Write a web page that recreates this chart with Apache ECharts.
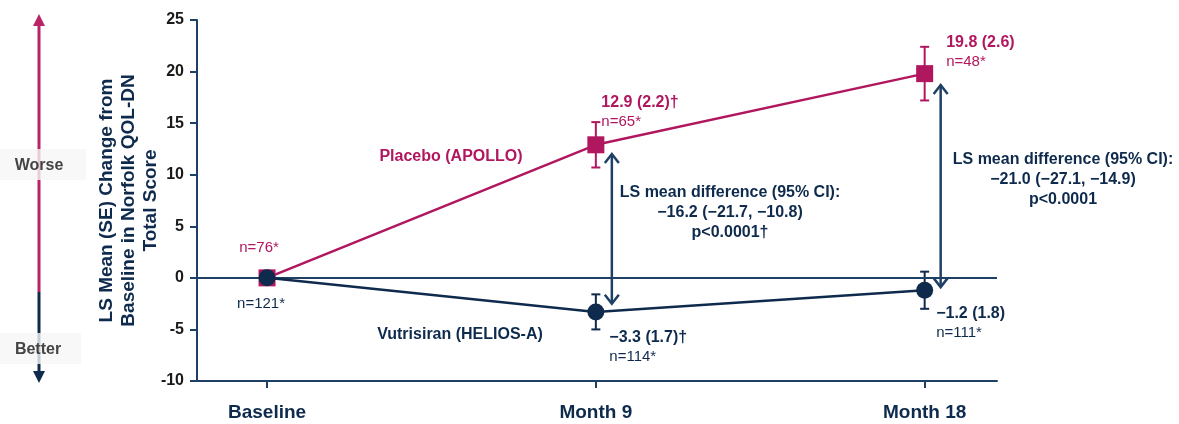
<!DOCTYPE html>
<html>
<head>
<meta charset="utf-8">
<script src="https://cdn.jsdelivr.net/npm/echarts@6/dist/echarts.min.js"></script>
<style>
html,body{margin:0;padding:0;background:#fff;}
#chart{width:1179px;height:424px;}
</style>
</head>
<body>
<div id="chart"></div>
<script>
// ---- data ----
const categories = ['Baseline', 'Month 9', 'Month 18'];
const placeboMean = [0, 12.9, 19.8];
const placeboSE = [null, 2.2, 2.6];
const vutrisiranMean = [0, -3.3, -1.2];
const vutrisiranSE = [null, 1.7, 1.8];
const placeboStatLabels = ['', '12.9 (2.2)†', '19.8 (2.6)'];
const placeboN = ['n=76*', 'n=65*', 'n=48*'];
const vutrisiranStatLabels = ['', '−3.3 (1.7)†', '−1.2 (1.8)'];
const vutrisiranN = ['n=121*', 'n=114*', 'n=111*'];
const diffIndex = [1, 2];
const diffArrowTop = [12.0, 18.7];
const diffArrowBottom = [-2.5, -0.9];
const diffTexts = [
  'LS mean difference (95% CI):\n−16.2 (−21.7, −10.8)\np<0.0001†',
  'LS mean difference (95% CI):\n−21.0 (−27.1, −14.9)\np<0.0001'
];
const yTicks = [-10, -5, 0, 5, 10, 15, 20, 25];
const seriesNames = ['Placebo (APOLLO)', 'Vutrisiran (HELIOS-A)'];
const yAxisTitle = 'LS Mean (SE) Change from\nBaseline in Norfolk QOL-DN\nTotal Score';
const directionLabels = ['Worse', 'Better'];

// ---- style ----
const MAG = '#b1175f';
const NAVY = '#0e2a4c';
const AXIS = '#1f4065';
const FONT = '"Liberation Sans", Arial, sans-serif';

const chart = echarts.init(document.getElementById('chart'), null, {renderer: 'canvas'});

function pointLabels(stat, nArr, color, isPlacebo) {
  return stat.map((s, i) => {
    let label;
    if (i === 0) {
      label = isPlacebo
        ? {show: true, position: 'top', distance: 14, offset: [-8, 0], formatter: nArr[i], color: color, fontSize: 15, fontFamily: FONT}
        : {show: true, position: 'bottom', distance: 10, offset: [-6, 0], formatter: nArr[i], color: color, fontSize: 15, fontFamily: FONT};
    } else {
      let pos;
      if (isPlacebo) pos = i === 1 ? [14, -44] : [30, -33];
      else pos = i === 1 ? [22, 24] : [20, 22];
      label = {
        show: true, position: pos, align: 'left', verticalAlign: 'top',
        formatter: '{b|' + s + '}\n{n|' + nArr[i] + '}',
        rich: {
          b: {fontWeight: 'bold', fontSize: 16, color: color, fontFamily: FONT, lineHeight: 20},
          n: {fontSize: 15, color: color, fontFamily: FONT, lineHeight: 19}
        }
      };
    }
    return {value: [i, isPlacebo ? placeboMean[i] : vutrisiranMean[i]], label: label};
  });
}

function errData(mean, se) {
  const out = [];
  mean.forEach((m, i) => { if (se[i] != null) out.push([i, m - se[i], m + se[i]]); });
  return out;
}

function errRender(color) {
  return function (params, api) {
    const x = api.value(0);
    const p1 = api.coord([x, api.value(2)]);
    const p2 = api.coord([x, api.value(1)]);
    const w = 9;
    const st = {stroke: color, lineWidth: 2};
    return {type: 'group', children: [
      {type: 'line', shape: {x1: p1[0], y1: p1[1], x2: p2[0], y2: p2[1]}, style: st},
      {type: 'line', shape: {x1: p1[0] - w / 2, y1: p1[1], x2: p1[0] + w / 2, y2: p1[1]}, style: st},
      {type: 'line', shape: {x1: p2[0] - w / 2, y1: p2[1], x2: p2[0] + w / 2, y2: p2[1]}, style: st}
    ]};
  };
}

const arrowData = diffIndex.map((xi, k) => [xi, diffArrowTop[k], diffArrowBottom[k]]);

const option = {
  animation: false,
  backgroundColor: '#ffffff',
  grid: {left: 197, right: 182, top: 20, bottom: 43, containLabel: false},
  xAxis: {
    type: 'value', min: -0.213, max: 2.22,
    splitLine: {show: false},
    axisLine: {show: true, onZero: false, lineStyle: {color: AXIS, width: 2}},
    axisTick: {show: true, customValues: [0, 1, 2], length: 7, lineStyle: {color: AXIS, width: 2}},
    axisLabel: {
      customValues: [0, 1, 2], margin: 22,
      formatter: v => categories[Math.round(v)],
      color: NAVY, fontWeight: 'bold', fontSize: 19, fontFamily: FONT
    }
  },
  yAxis: {
    type: 'value', min: -10, max: 25, interval: 5,
    splitLine: {show: false},
    axisLine: {show: true, onZero: false, lineStyle: {color: AXIS, width: 2}},
    axisTick: {show: true, length: 7, lineStyle: {color: AXIS, width: 2}},
    axisLabel: {
      margin: 13, color: '#1a1a1a', fontWeight: 'bold', fontSize: 16, fontFamily: FONT,
      formatter: v => (yTicks.indexOf(v) >= 0 ? String(v) : '')
    },
    name: yAxisTitle, nameLocation: 'middle', nameGap: 35, nameRotate: 90, nameMoveOverlap: false,
    nameTextStyle: {color: NAVY, fontWeight: 'bold', fontSize: 19, fontFamily: FONT, lineHeight: 22, align: 'center'}
  },
  series: [
    {
      type: 'line', name: 'zero', data: [], silent: true,
      markLine: {
        silent: true, symbol: 'none', label: {show: false},
        lineStyle: {color: AXIS, width: 2, type: 'solid'},
        data: [{yAxis: 0}]
      }
    },
    {
      type: 'custom', name: 'placeboErr', z: 3,
      renderItem: errRender(MAG), data: errData(placeboMean, placeboSE)
    },
    {
      type: 'custom', name: 'vutrisiranErr', z: 3,
      renderItem: errRender(NAVY), data: errData(vutrisiranMean, vutrisiranSE)
    },
    {
      type: 'line', name: seriesNames[0], z: 4,
      symbol: 'rect', symbolSize: 17,
      lineStyle: {color: MAG, width: 2.5}, itemStyle: {color: MAG},
      data: pointLabels(placeboStatLabels, placeboN, MAG, true)
    },
    {
      type: 'line', name: seriesNames[1], z: 5,
      symbol: 'circle', symbolSize: 17,
      lineStyle: {color: NAVY, width: 2.5}, itemStyle: {color: NAVY},
      data: pointLabels(vutrisiranStatLabels, vutrisiranN, NAVY, false)
    },
    {
      type: 'custom', name: 'diffArrows', z: 6,
      data: arrowData,
      renderItem: function (params, api) {
        const x = api.value(0);
        const top = api.coord([x, api.value(1)]);
        const bot = api.coord([x, api.value(2)]);
        const px = top[0] + 16;
        const h = 7, l = 9;
        const st = {stroke: AXIS, lineWidth: 2.5, fill: null};
        return {type: 'group', children: [
          {type: 'line', shape: {x1: px, y1: top[1] + 1, x2: px, y2: bot[1] - 1}, style: st},
          {type: 'polyline', shape: {points: [[px - h, top[1] + l], [px, top[1]], [px + h, top[1] + l]]}, style: st},
          {type: 'polyline', shape: {points: [[px - h, bot[1] - l], [px, bot[1]], [px + h, bot[1] - l]]}, style: st}
        ]};
      }
    }
  ],
  graphic: [
    // left worse/better arrow
    {type: 'line', shape: {x1: 39, y1: 22, x2: 39, y2: 292}, style: {stroke: '#b82467', lineWidth: 3}},
    {type: 'polygon', shape: {points: [[33, 26], [39, 14], [45, 26]]}, style: {fill: '#b82467'}},
    {type: 'line', shape: {x1: 39, y1: 292, x2: 39, y2: 376}, style: {stroke: NAVY, lineWidth: 3}},
    {type: 'polygon', shape: {points: [[33, 371], [39, 383], [45, 371]]}, style: {fill: NAVY}},
    {type: 'rect', shape: {x: 0, y: 149, width: 86, height: 31}, style: {fill: 'rgba(246,246,246,0.8)'}},
    {type: 'rect', shape: {x: 0, y: 333, width: 81, height: 31}, style: {fill: 'rgba(246,246,246,0.8)'}},
    {type: 'text', x: 39, y: 166, style: {text: directionLabels[0], fill: '#444444', font: 'bold 16px ' + FONT, align: 'center', verticalAlign: 'middle'}},
    {type: 'text', x: 38, y: 350, style: {text: directionLabels[1], fill: '#444444', font: 'bold 16px ' + FONT, align: 'center', verticalAlign: 'middle'}},
    // series name labels
    {type: 'text', x: 451, y: 157, style: {text: seriesNames[0], fill: MAG, font: 'bold 16px ' + FONT, align: 'center', verticalAlign: 'middle'}},
    {type: 'text', x: 460, y: 335, style: {text: seriesNames[1], fill: NAVY, font: 'bold 16px ' + FONT, align: 'center', verticalAlign: 'middle'}},
    // difference annotations
    {type: 'text', x: 730, y: 183, style: {text: diffTexts[0], fill: NAVY, font: 'bold 16px ' + FONT, align: 'center', verticalAlign: 'top', lineHeight: 20}},
    {type: 'text', x: 1063, y: 150, style: {text: diffTexts[1], fill: NAVY, font: 'bold 16px ' + FONT, align: 'center', verticalAlign: 'top', lineHeight: 20}}
  ]
};

chart.setOption(option);
</script>
</body>
</html>
